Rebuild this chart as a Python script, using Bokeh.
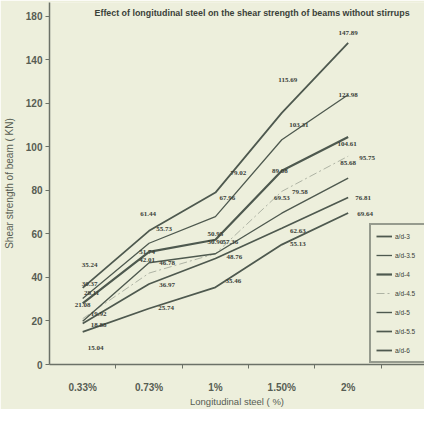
from bokeh.plotting import figure
from bokeh.models import (ColumnDataSource, FixedTicker, Label, Legend, LegendItem,
                          LabelSet, Range1d)
from bokeh.embed import file_html
from bokeh.resources import INLINE

# ---------------- data ----------------
categories = ["0.33%", "0.73%", "1%", "1.50%", "2%"]
series_names = ["a/d-3", "a/d-3.5", "a/d-4", "a/d-4.5", "a/d-5", "a/d-5.5", "a/d-6"]
ad_3 = [35.24, 61.44, 79.02, 115.69, 147.89]
ad_3_5 = [30.37, 55.73, 67.96, 103.31, 123.98]
ad_4 = [28.11, 51.74, 57.36, 89.08, 104.61]
ad_4_5 = [21.08, 42.01, 50.95, 79.58, 95.75]
ad_5 = [19.92, 46.78, 50.90, 69.53, 85.68]
ad_5_5 = [18.88, 36.97, 48.76, 62.63, 76.81]
ad_6 = [15.04, 25.74, 35.46, 55.13, 69.64]
series_values = [ad_3, ad_3_5, ad_4, ad_4_5, ad_5, ad_5_5, ad_6]
y_ticks = [0, 20, 40, 60, 80, 100, 120, 140, 160]
y_tick_labels = ["0", "20", "40", "60", "80", "100", "120", "140", "180"]

# label placement (screen px, right / up) relative to each point
label_dx = [[7, -1, 23, 6, 0], [7, 15, 12, 17, 0], [9, -2, 15, -2, -1],
            [0, -2, 0, 18, 19], [16, 18, 0, 0, 0], [16, 18, 19, 16, 15],
            [13, 17, 18, 16, 17]]
label_dy = [[23, 17, 20, 33, 10], [14, 14, 19, 15, 0], [10, 0, -2, 0, -7],
            [14, 13, 20, -1, -2], [7, 0, 12, 15, 15], [-2, -1, 1, -3, -1],
            [-16, 1, 6, 1, -1]]

# ---------------- styles ----------------
bg = "#edefdc"
ink = "#3a4139"
soft = "#575d53"
line_col = "#4e594f"
styles = [
    dict(line_color=line_col, line_width=1.8),
    dict(line_color=line_col, line_width=1.3),
    dict(line_color=line_col, line_width=2.2),
    dict(line_color="#aeb3a4", line_width=1.0, line_dash="8 3 2 3"),
    dict(line_color=line_col, line_width=1.4),
    dict(line_color=line_col, line_width=1.7),
    dict(line_color=line_col, line_width=1.8),
]

xs = [i + 0.5 for i in range(len(categories))]

p = figure(width=424, height=409, output_backend="svg", toolbar_location=None,
           x_range=Range1d(0, 5.65), y_range=Range1d(0, 166.4),
           min_border_left=48, min_border_right=0, min_border_top=2,
           min_border_bottom=43,
           background_fill_color=bg, border_fill_color=bg,
           outline_line_color=None)
p.grid.visible = False

items = []
for name, vals, st, dxs, dys in zip(series_names, series_values, styles,
                                    label_dx, label_dy):
    src = ColumnDataSource(dict(x=xs, y=vals, t=[f"{v:.2f}" for v in vals],
                                dx=dxs, dy=dys))
    r = p.line("x", "y", source=src, **st)
    items.append(LegendItem(label=name, renderers=[r]))
    p.add_layout(LabelSet(x="x", y="y", text="t", source=src,
                          x_offset="dx", y_offset="dy",
                          text_font="Liberation Sans", text_font_style="bold",
                          text_font_size="7px", text_color=ink,
                          text_align="center", text_baseline="middle"))

# axes
xa = p.xaxis[0]
xa.ticker = FixedTicker(ticks=xs, minor_ticks=[i + 1.0 for i in range(len(categories))])
xa.major_label_overrides = {x: c for x, c in zip(xs, categories)}
xa.major_tick_in = 0
xa.major_tick_out = 0
xa.minor_tick_in = 0
xa.minor_tick_out = 4
xa.minor_tick_line_color = "#6b7167"
xa.major_label_standoff = 13
xa.axis_label = "Longitudinal steel ( %)"
xa.axis_label_standoff = 0

ya = p.yaxis[0]
ya.ticker = FixedTicker(ticks=y_ticks, minor_ticks=[])
ya.major_label_overrides = {t: l for t, l in zip(y_ticks, y_tick_labels)}
ya.major_tick_in = 0
ya.major_tick_out = 4
ya.major_label_standoff = 3
ya.axis_label = "Shear strength of beam ( KN)"
ya.axis_label_standoff = 8

for ax in (xa, ya):
    ax.axis_line_color = "#6b7167"
    ax.axis_line_width = 1.5
    ax.major_tick_line_color = "#6b7167"
    ax.major_label_text_font = "Liberation Sans"
    ax.major_label_text_font_style = "bold"
    ax.major_label_text_font_size = "10px"
    ax.major_label_text_color = soft
    ax.axis_label_text_font = "Liberation Sans"
    ax.axis_label_text_font_style = "normal"
    ax.axis_label_text_color = soft
xa.axis_label_text_font_size = "9.5px"
ya.axis_label_text_font_size = "10px"

# title
p.add_layout(Label(x=45, y=161.5, x_units="screen", y_units="data",
                   text="Effect of longitudinal steel on the shear strength of beams without stirrups",
                   text_font="Liberation Sans", text_font_style="bold",
                   text_font_size="8.9px", text_color=ink,
                   text_baseline="middle", text_align="left"))

legend = Legend(items=items, location=(320, 1), orientation="vertical",
                label_text_font="Liberation Sans", label_text_font_size="6.5px",
                label_text_color=ink, glyph_width=16, glyph_height=12,
                label_height=12, label_width=32, label_standoff=3, spacing=7,
                padding=5, margin=0, border_line_color="#3f473f",
                border_line_width=2, background_fill_color=bg,
                background_fill_alpha=1.0)
p.add_layout(legend)

open("out.html", "w").write(file_html(p, INLINE))
